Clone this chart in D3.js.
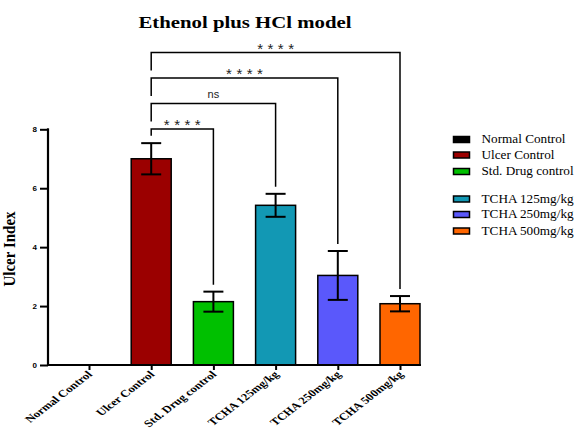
<!DOCTYPE html>
<html><head><meta charset="utf-8">
<script src="https://cdn.jsdelivr.net/npm/d3@7"></script>
<style>body{margin:0;background:#fff}svg{display:block}</style>
</head><body>
<svg id="c" width="578" height="430"></svg>
<script>
const categories = ["Normal Control","Ulcer Control","Std. Drug control","TCHA 125mg/kg","TCHA 250mg/kg","TCHA 500mg/kg"];
const means = [0, 7.0, 2.15, 5.42, 3.04, 2.08];
const errors = [0, 0.53, 0.34, 0.39, 0.83, 0.26];
const colors = ["#000000","#9b0000","#00c000","#1298b4","#5a58fb","#ff6600"];
const yTicks = [0,2,4,6,8];
const compFrom = ["Ulcer Control","Ulcer Control","Ulcer Control","Ulcer Control"];
const compTo = ["Std. Drug control","TCHA 125mg/kg","TCHA 250mg/kg","TCHA 500mg/kg"];
const compLabels = ["****","ns","****","****"];
const title = "Ethenol plus HCl model";
const yLabel = "Ulcer Index";

const svg = d3.select("#c");
const SX = 1.3; // horizontal stretch of text in reference
const axisX = 48, baseY = 365, topY = 129.3;
const y = d3.scaleLinear().domain([0,8]).range([baseY, topY]);
const x = d3.scalePoint().domain(categories).range([89, 400]);
const bw = 40;

// title
svg.append("text").attr("transform",`translate(245,27.5) scale(${SX},1)`)
  .attr("text-anchor","middle").attr("font-family","Liberation Serif, Times New Roman, serif")
  .attr("font-weight","bold").attr("font-size",16).text(title);

// y label
svg.append("text").attr("transform",`translate(14.5,249) scale(1.15,1) rotate(-90)`)
  .attr("text-anchor","middle").attr("font-family","Liberation Serif, Times New Roman, serif")
  .attr("font-weight","bold").attr("font-size",15).text(yLabel);

// bars
svg.append("g").selectAll("rect").data(categories).join("rect")
  .attr("x", d => x(d) - bw/2).attr("width", bw)
  .attr("y", (d,i) => y(means[i])).attr("height", (d,i) => baseY - y(means[i]))
  .attr("fill", (d,i) => colors[i]).attr("stroke", "#000").attr("stroke-width", 1.5)
  .attr("display", (d,i) => means[i] > 0 ? null : "none");

// error bars
const eg = svg.append("g").attr("stroke","#000").attr("stroke-width",2);
categories.forEach((c,i) => {
  if (!errors[i]) return;
  const cx = x(c);
  eg.append("line").attr("x1",cx).attr("x2",cx).attr("y1",y(means[i]+errors[i])).attr("y2",y(means[i]-errors[i]));
  eg.append("line").attr("x1",cx-10).attr("x2",cx+10).attr("y1",y(means[i]+errors[i])).attr("y2",y(means[i]+errors[i]));
  eg.append("line").attr("x1",cx-10).attr("x2",cx+10).attr("y1",y(means[i]-errors[i])).attr("y2",y(means[i]-errors[i]));
});

// y axis
const ya = svg.append("g").attr("transform",`translate(${axisX},0)`)
  .call(d3.axisLeft(y).tickValues(yTicks).tickSize(8).tickPadding(3).tickFormat(d3.format("d")));
ya.select(".domain").remove();
ya.selectAll(".tick line").attr("stroke","#000").attr("stroke-width",2);
ya.selectAll(".tick text").attr("font-family","Liberation Sans, Arial, sans-serif").attr("font-weight","bold")
  .attr("font-size",8).attr("fill","#000");
svg.append("line").attr("x1",axisX).attr("x2",axisX).attr("y1",topY-1).attr("y2",baseY+1)
  .attr("stroke","#000").attr("stroke-width",2.2);

// x axis
const xa = svg.append("g").attr("transform",`translate(0,${baseY})`)
  .call(d3.axisBottom(x).tickSize(5).tickFormat(""));
xa.select(".domain").remove();
xa.selectAll(".tick line").attr("stroke","#000").attr("stroke-width",2);
svg.append("line").attr("x1",axisX-1).attr("x2",x(categories[categories.length-1]) + bw/2 + 1)
  .attr("y1",baseY).attr("y2",baseY).attr("stroke","#000").attr("stroke-width",2.2);
svg.append("g").selectAll("text").data(categories).join("text")
  .attr("transform", d => `translate(${x(d)+4},${baseY+10}) scale(${SX},1) rotate(-45)`)
  .attr("text-anchor","end").attr("font-family","Liberation Serif, Times New Roman, serif")
  .attr("font-weight","bold").attr("font-size",10).text(d => d);

// comparison brackets
const bg = svg.append("g");
compTo.forEach((to,i) => {
  const x1 = x(compFrom[i]), x2 = x(to);
  const ly = 129 - i*25.5;
  const fromIdx = categories.indexOf(compFrom[i]);
  const toIdx = categories.indexOf(to);
  const leftEnd = i === 0 ? y(means[fromIdx]+errors[fromIdx]) - 7.5 : (129 - (i-1)*25.5) - 7.5;
  const rightEnd = y(means[toIdx]+errors[toIdx]) - 7;
  bg.append("path").attr("d",`M${x1},${leftEnd}V${ly}H${x2}V${rightEnd}`)
    .attr("fill","none").attr("stroke","#000").attr("stroke-width",1.5);
  const isNs = compLabels[i] === "ns";
  const ls = isNs ? 0 : 4.5;
  bg.append("text").attr("x",(x1+x2)/2 + ls/2).attr("y", isNs ? ly - 6 : ly + 1)
    .attr("text-anchor","middle").attr("font-family","Liberation Sans, Arial, sans-serif")
    .attr("font-size", isNs ? 11 : 15).attr("fill","#222")
    .attr("letter-spacing", ls).text(compLabels[i]);
});

// legend
const legY = [139.5, 155, 171.5, 199, 214.5, 231];
const lg = svg.append("g");
categories.forEach((c,i) => {
  lg.append("rect").attr("x",453.5).attr("y",legY[i]-3).attr("width",16).attr("height",6)
    .attr("fill",colors[i]).attr("stroke","#000").attr("stroke-width",1.5);
  lg.append("text").attr("transform",`translate(481.5,${legY[i]+3.8}) scale(1.15,1)`)
    .attr("font-family","Liberation Serif, Times New Roman, serif").attr("font-size",11.5).text(c);
});
</script>
</body></html>
